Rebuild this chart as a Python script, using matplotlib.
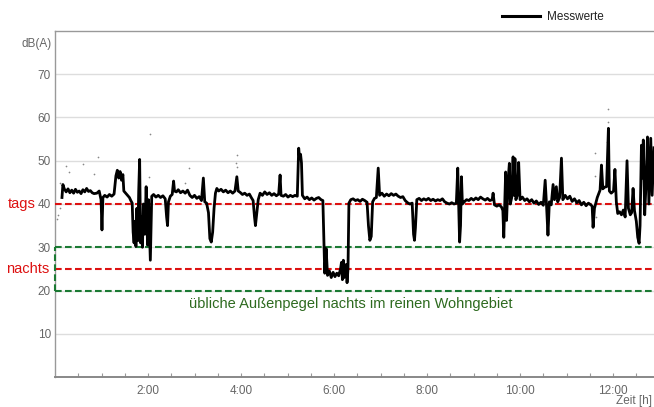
import numpy as np
import matplotlib
matplotlib.use("Agg")
import matplotlib.pyplot as plt
from matplotlib.lines import Line2D
from matplotlib.ticker import FuncFormatter

plt.rcParams['font.family'] = ['Liberation Sans', 'DejaVu Sans']

# ---- data: time [h] and level [dB(A)] ----
zeit = [
    0.15, 0.17, 0.20, 0.24, 0.28, 0.32, 0.36, 0.40, 0.44, 0.48, 0.52, 0.56, 0.60, 0.64, 0.68,
    0.72, 0.76, 0.80, 0.84, 0.90, 0.95, 0.99, 1.01, 1.03, 1.07, 1.12, 1.17, 1.22, 1.27, 1.31,
    1.34, 1.37, 1.40, 1.43, 1.46, 1.48, 1.52, 1.56, 1.60, 1.63, 1.66, 1.68, 1.70, 1.72, 1.74,
    1.76, 1.78, 1.80, 1.82, 1.84, 1.86, 1.88, 1.90, 1.93, 1.96, 1.99, 2.01, 2.05, 2.08, 2.12,
    2.17, 2.22, 2.27, 2.32, 2.37, 2.40, 2.42, 2.44, 2.48, 2.52, 2.55, 2.57, 2.61, 2.65, 2.70,
    2.75, 2.80, 2.85, 2.90, 2.95, 3.00, 3.05, 3.10, 3.15, 3.19, 3.22, 3.26, 3.30, 3.33, 3.36,
    3.39, 3.42, 3.45, 3.48, 3.52, 3.57, 3.62, 3.67, 3.72, 3.77, 3.82, 3.87, 3.91, 3.94, 3.98,
    4.03, 4.08, 4.13, 4.18, 4.22, 4.26, 4.29, 4.31, 4.34, 4.37, 4.41, 4.46, 4.51, 4.56, 4.61,
    4.66, 4.71, 4.76, 4.81, 4.84, 4.86, 4.91, 4.96, 5.01, 5.06, 5.11, 5.16, 5.21, 5.24, 5.26,
    5.28, 5.30, 5.32, 5.37, 5.42, 5.47, 5.52, 5.57, 5.62, 5.67, 5.72, 5.76, 5.78, 5.80, 5.83,
    5.86, 5.90, 5.94, 5.98, 6.02, 6.06, 6.10, 6.14, 6.16, 6.18, 6.20, 6.22, 6.24, 6.26, 6.28,
    6.30, 6.32, 6.36, 6.41, 6.46, 6.51, 6.56, 6.61, 6.66, 6.71, 6.74, 6.77, 6.80, 6.83, 6.87,
    6.91, 6.95, 6.98, 7.03, 7.08, 7.13, 7.18, 7.23, 7.28, 7.33, 7.38, 7.43, 7.48, 7.53, 7.58,
    7.63, 7.68, 7.71, 7.73, 7.75, 7.78, 7.83, 7.88, 7.93, 7.98, 8.03, 8.08, 8.13, 8.18, 8.23,
    8.28, 8.33, 8.38, 8.43, 8.48, 8.53, 8.58, 8.63, 8.66, 8.68, 8.70, 8.72, 8.74, 8.76, 8.80,
    8.85, 8.90, 8.95, 9.00, 9.05, 9.10, 9.15, 9.20, 9.25, 9.30, 9.35, 9.40, 9.42, 9.45, 9.50,
    9.55, 9.60, 9.63, 9.65, 9.67, 9.69, 9.71, 9.74, 9.77, 9.79, 9.82, 9.85, 9.87, 9.89, 9.91,
    9.94, 9.97, 10.00, 10.05, 10.10, 10.15, 10.20, 10.25, 10.30, 10.35, 10.40, 10.45, 10.50, 10.54, 10.57,
    10.60, 10.63, 10.67, 10.71, 10.74, 10.78, 10.81, 10.85, 10.89, 10.92, 10.97, 11.02, 11.07, 11.12, 11.17,
    11.22, 11.27, 11.32, 11.37, 11.42, 11.47, 11.52, 11.55, 11.57, 11.60, 11.66, 11.72, 11.75, 11.78, 11.82,
    11.86, 11.90, 11.92, 11.96, 12.01, 12.04, 12.07, 12.10, 12.14, 12.18, 12.22, 12.26, 12.30, 12.33, 12.37,
    12.40, 12.43, 12.46, 12.50, 12.53, 12.56, 12.58, 12.61, 12.63, 12.65, 12.68, 12.71, 12.74, 12.77, 12.81,
    12.84, 12.88,
]
pegel = [
    41.5, 44.5, 43.5, 42.8, 43.5, 42.6, 43.2, 42.5, 43.4, 42.7, 43.0, 42.4, 43.3, 42.8, 43.6,
    42.9, 43.1, 42.6, 42.4, 42.5, 43.0, 41.0, 34.0, 41.5, 42.0, 41.6, 42.2, 41.8, 42.3, 46.5,
    47.8, 46.0, 47.5, 45.5, 46.8, 43.0, 42.5, 42.0, 41.5, 40.8, 40.2, 33.5, 31.0, 36.0, 30.2,
    39.0, 31.5, 43.0, 50.3, 31.0, 37.0, 30.0, 40.0, 33.0, 44.0, 30.5, 41.0, 27.0, 41.8, 42.2,
    41.6, 42.0, 41.5, 41.9, 41.2, 37.0, 35.0, 40.5, 41.8, 42.2, 45.3, 43.0, 42.8, 43.3, 42.6,
    43.0, 42.5, 43.2, 42.0, 41.5, 42.0, 41.3, 41.7, 40.8, 46.0, 40.5, 40.2, 38.0, 32.0, 31.2,
    33.5, 39.0, 42.5, 43.6, 43.0, 43.4, 42.8, 43.2, 42.6, 43.0, 42.5, 43.0, 46.3, 43.0, 42.7,
    42.2, 42.5, 42.0, 42.3, 41.5, 40.8, 37.0, 35.0, 38.0, 41.0, 42.5, 42.0, 42.8, 42.2, 42.6,
    42.0, 42.4, 41.9, 42.3, 46.7, 42.0, 41.8, 42.2, 41.6, 42.0, 41.7, 42.0, 41.8, 52.9, 50.5,
    51.5, 49.5, 42.0, 41.2, 41.6, 41.0, 41.4, 40.9, 41.3, 41.5, 41.0, 40.8, 32.3, 24.0, 29.7,
    23.5, 24.5, 23.0, 24.2, 23.2, 24.0, 23.4, 25.0, 26.5, 22.5, 27.0, 23.0, 24.5, 26.0, 21.8,
    25.0, 40.2, 41.0, 41.2, 40.8, 41.0, 40.6, 41.1, 40.8, 40.4, 35.0, 31.6, 32.5, 40.5, 41.3,
    41.5, 48.3, 42.0, 42.5, 41.8, 42.3, 41.9, 42.4, 42.0, 42.3, 41.8, 41.5, 41.7, 40.8, 40.3,
    40.0, 40.2, 33.0, 31.6, 34.5, 41.0, 41.3, 40.8, 41.2, 40.9, 41.3, 40.8, 41.1, 40.7, 41.0,
    40.8, 41.2, 40.5, 40.2, 40.0, 40.3, 40.0, 40.2, 48.3, 40.0, 31.2, 35.0, 46.3, 40.0, 40.5,
    41.0, 40.8, 41.3, 40.9, 41.4, 41.0, 41.6, 41.2, 40.9, 41.3, 40.8, 41.0, 42.5, 39.8, 39.5,
    39.8, 39.3, 38.5, 32.3, 40.0, 47.4, 36.2, 45.0, 49.4, 40.0, 41.5, 50.9, 42.0, 50.5, 41.0,
    42.0, 49.6, 41.0, 41.6, 40.8, 41.2, 40.5, 41.0, 40.2, 40.7, 39.9, 40.4, 39.7, 45.5, 39.5,
    32.8, 40.5, 39.8, 44.5, 41.0, 44.0, 40.5, 41.5, 50.6, 41.0, 42.0, 41.2, 41.8, 40.6, 41.2,
    40.3, 40.8, 39.8, 40.4, 39.6, 40.2, 39.8, 39.5, 34.6, 39.0, 41.5, 43.2, 49.0, 43.5, 43.9,
    44.0, 57.5, 43.0, 42.5, 43.0, 48.0, 40.5, 37.8, 38.2, 37.5, 38.6, 37.0, 50.0, 39.0, 37.5,
    38.0, 43.6, 38.5, 36.0, 32.3, 30.9, 35.0, 53.6, 46.0, 54.8, 37.5, 45.0, 55.5, 40.0, 55.2,
    42.0, 53.0,
]
# isolated single readings (grey dots)
punkte_zeit = [0.05, 0.07, 0.10, 0.11, 0.24, 0.30, 0.60, 0.84, 0.93, 2.02, 2.04, 2.80, 2.88,
               3.89, 3.91, 3.91, 11.61, 11.61, 11.63, 11.87, 11.89, 11.89]
punkte_pegel = [36.5, 37.5, 39.0, 44.8, 48.7, 47.3, 49.2, 47.0, 50.9, 46.2, 56.1, 44.8, 48.3,
                49.4, 51.3, 48.5, 51.7, 46.4, 37.1, 54.3, 58.9, 61.9]

tags_grenze = 40
nachts_grenze = 25
wohngebiet_oben = 30
wohngebiet_unten = 20
y_ticks = [10, 20, 30, 40, 50, 60, 70]

# ---- figure ----
fig = plt.figure(figsize=(6.54, 4.07), dpi=100)
ax = fig.add_axes([55/654, 1-377/407, 599/654, 346/407])
ax.set_xlim(0, 12.88)
ax.set_ylim(0, 80)

ax.set_axisbelow(True)
ax.yaxis.grid(True, color='#dddddd', lw=1.0)
ax.set_yticks(y_ticks)
ax.tick_params(axis='y', length=0, pad=3, labelsize=8.5, labelcolor='#666666')

ax.set_xticks(np.arange(0.5, 12.9, 0.5))
ax.xaxis.set_major_formatter(FuncFormatter(
    lambda v, p: f"{int(round(v))}:00" if abs(v - round(v)) < 1e-6 and int(round(v)) % 2 == 0 else ""))
ax.tick_params(axis='x', direction='in', length=3, width=0.8, color='#999999',
               pad=6, labelsize=8.5, labelcolor='#666666')

for s in ['top', 'left']:
    ax.spines[s].set_color('#999999')
    ax.spines[s].set_linewidth(1.0)
ax.spines['bottom'].set_color('#888888')
ax.spines['bottom'].set_linewidth(1.4)
ax.spines['right'].set_visible(False)

red = '#dd1111'
green = '#1b7a33'
dash = (0, (3.2, 1.6))
ax.axhline(tags_grenze, color=red, lw=1.5, ls=dash, zorder=3)
ax.axhline(nachts_grenze, color=red, lw=1.5, ls=dash, zorder=3)
ax.axhline(wohngebiet_oben, color=green, lw=1.5, ls=dash, zorder=3)
ax.axhline(wohngebiet_unten, color=green, lw=1.5, ls=dash, zorder=3)
ax.vlines(0, wohngebiet_unten, wohngebiet_oben, color=green, lw=1.5, ls=dash,
          zorder=3, clip_on=False)

ax.scatter(punkte_zeit, punkte_pegel, s=1.5, color='#888888', zorder=2, linewidths=0)
line, = ax.plot(zeit, pegel, color='black', lw=2.0, zorder=4, solid_joinstyle='round')

ax.text(0.494, 0.211, 'übliche Außenpegel nachts im reinen Wohngebiet', transform=ax.transAxes,
        ha='center', va='center', color='#2d6a1f', fontsize=10.5)

fig.text(52/654, 1-44/407, 'dB(A)', ha='right', va='center', color='#666666', fontsize=8.5)
fig.text(36/654, 1-204/407, 'tags', ha='right', va='center', color=red, fontsize=10.5)
fig.text(49/654, 1-269/407, 'nachts', ha='right', va='center', color=red, fontsize=10.5)
fig.text(652/654, 1-401/407, 'Zeit [h]', ha='right', va='center', color='#666666', fontsize=8.5)

fig.legend(handles=[Line2D([], [], color='black', lw=2.2)], labels=['Messwerte'],
           loc='center left', bbox_to_anchor=(502/654, 1-17/407), frameon=False,
           borderpad=0, borderaxespad=0, handlelength=3.2, handletextpad=0.6,
           fontsize=8.5, labelcolor='#222222')

fig.savefig('out.png', dpi=100)
